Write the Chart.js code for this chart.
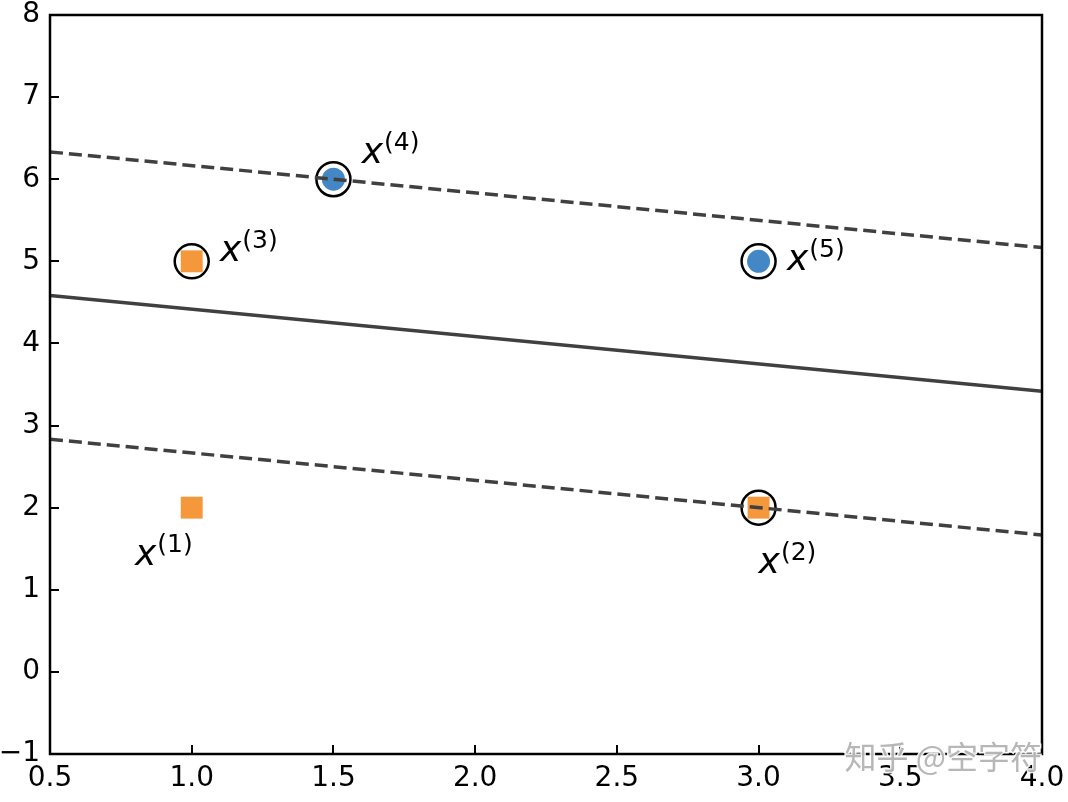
<!DOCTYPE html>
<html>
<head>
<meta charset="utf-8">
<script src="https://cdn.jsdelivr.net/npm/chart.js@4/dist/chart.umd.min.js"></script>
<style>
  html, body { margin: 0; padding: 0; background: #fff; }
</style>
</head>
<body>
<canvas id="svmChart" width="1068" height="802"></canvas>
<script>
// sample points
let orangeX = [1, 3, 1];
let orangeY = [2, 2, 5];
let blueX = [1.5, 3];
let blueY = [6, 5];

// support vectors (ringed)
let supportX = [1, 1.5, 3, 3];
let supportY = [5, 6, 5, 2];

// separating line and margins, ends at x = 0.5 and x = 4.0
let lineX = [0.5, 4.0];
let middleY = [4.583, 3.417];
let upperY = [6.333, 5.167];
let lowerY = [2.833, 1.667];

// labels x^(i)
let labelNames = ['1', '2', '3', '4', '5'];
let labelX = [0.8, 3.0, 1.1, 1.6, 3.1];
let labelY = [1.3, 1.2, 5.0, 6.2, 4.9];

let xTicks = [0.5, 1.0, 1.5, 2.0, 2.5, 3.0, 3.5, 4.0];
let yTicks = [-1, 0, 1, 2, 3, 4, 5, 6, 7, 8];

function toPoints(xs, ys) {
  return xs.map((x, i) => ({ x: x, y: ys[i] }));
}

//frame, inward ticks, labels and watermark
const extras = {
  id: 'extras',
  afterDraw(chart) {
    const ctx = chart.ctx;
    const a = chart.chartArea;
    const xs = chart.scales.x, ys = chart.scales.y;
    ctx.save();

    // labels
    labelNames.forEach((n, i) => {
      let px = xs.getPixelForValue(labelX[i]);
      let py = ys.getPixelForValue(labelY[i]);
      ctx.fillStyle = '#000';
      ctx.textAlign = 'left';
      ctx.textBaseline = 'alphabetic';
      ctx.font = 'italic 36px "DejaVu Sans"';
      ctx.fillText('x', px, py);
      let w = ctx.measureText('x').width;
      ctx.font = '25px "DejaVu Sans"';
      ctx.fillText('(' + n + ')', px + w + 1, py - 13);
    });

    // frame
    ctx.strokeStyle = '#000';
    ctx.lineWidth = 2.5;
    ctx.strokeRect(a.left, a.top, a.right - a.left, a.bottom - a.top);

    // inward ticks
    ctx.lineWidth = 2;
    ctx.beginPath();
    xTicks.forEach(v => {
      let p = Math.round(xs.getPixelForValue(v));
      ctx.moveTo(p, a.bottom);
      ctx.lineTo(p, a.bottom - 9);
    });
    yTicks.forEach(v => {
      let p = Math.round(ys.getPixelForValue(v));
      ctx.moveTo(a.left, p);
      ctx.lineTo(a.left + 9, p);
    });
    ctx.stroke();

    // watermark
    ctx.font = '32px "Noto Sans CJK SC"';
    ctx.textAlign = 'right';
    ctx.textBaseline = 'middle';
    ctx.lineWidth = 3;
    ctx.strokeStyle = 'rgba(255,255,255,0.9)';
    ctx.strokeText('知乎 @空字符', 1042, 757);
    ctx.fillStyle = 'rgba(165,165,165,0.8)';
    ctx.fillText('知乎 @空字符', 1042, 757);
    ctx.restore();
  }
};

let ctx = document.getElementById('svmChart').getContext('2d');
let chart = new Chart(ctx, {
  type: 'scatter',
  data: {
    datasets: [
      {
        type: 'line', data: toPoints(lineX, middleY), borderColor: '#404040',
        borderWidth: 3.5, pointRadius: 0, order: 0
      },
      {
        type: 'line', data: toPoints(lineX, upperY), borderColor: '#404040',
        borderWidth: 3.5, borderDash: [13, 6], pointRadius: 0, order: 0
      },
      {
        type: 'line', data: toPoints(lineX, lowerY), borderColor: '#404040',
        borderWidth: 3.5, borderDash: [13, 6], pointRadius: 0, order: 0
      },
      {
        data: toPoints(orangeX, orangeY), pointStyle: 'rect', pointRadius: 15.5,
        backgroundColor: '#f5973b', borderColor: '#f5973b', borderWidth: 0, order: 2
      },
      {
        data: toPoints(blueX, blueY), pointStyle: 'circle', pointRadius: 11.5,
        backgroundColor: '#4387c4', borderColor: '#4387c4', borderWidth: 0, order: 2
      },
      {
        data: toPoints(supportX, supportY), pointStyle: 'circle', pointRadius: 17,
        backgroundColor: 'rgba(0,0,0,0)', borderColor: '#000', borderWidth: 2.5, order: 1
      }
    ]
  },
  options: {
    responsive: false,
    animation: false,
    devicePixelRatio: 1,
    layout: { autoPadding: false, padding: { top: 15, right: 26, left: 0, bottom: 0 } },
    plugins: { legend: { display: false }, tooltip: { enabled: false } },
    scales: {
      x: {
        type: 'linear', min: 0.5, max: 4.0,
        afterBuildTicks: s => { s.ticks = xTicks.map(v => ({ value: v })); },
        afterFit: s => { s.height = 48; s.paddingLeft = 0; s.paddingRight = 0; },
        grid: { display: false, drawTicks: false },
        border: { display: false },
        ticks: {
          color: '#000', font: { family: 'DejaVu Sans', size: 28 }, padding: 8,
          maxRotation: 0, autoSkip: false,
          callback: v => v.toFixed(1)
        }
      },
      y: {
        type: 'linear', min: -1, max: 8,
        afterBuildTicks: s => { s.ticks = yTicks.map(v => ({ value: v })); },
        afterFit: s => { s.width = 50; s.paddingTop = 0; s.paddingBottom = 0; },
        grid: { display: false, drawTicks: false },
        border: { display: false },
        ticks: {
          color: '#000', font: { family: 'DejaVu Sans', size: 28 }, padding: 10,
          autoSkip: false,
          callback: v => String(v).replace('-', '\u2212')
        }
      }
    }
  },
  plugins: [extras]
});
</script>
</body>
</html>
